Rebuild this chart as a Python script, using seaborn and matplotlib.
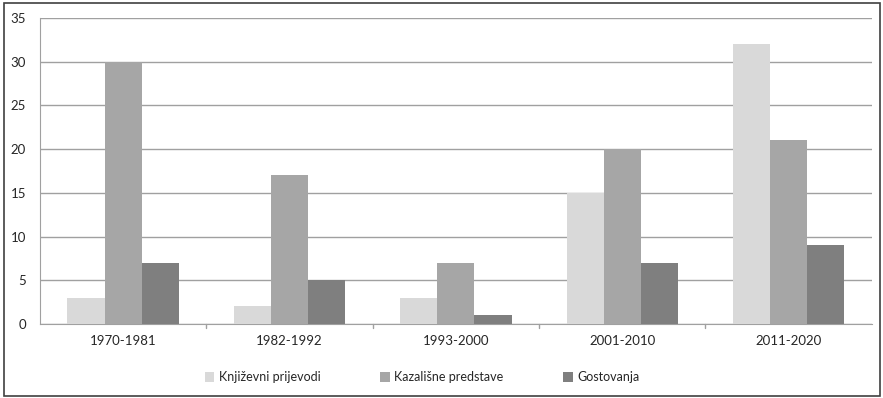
import numpy as np
import pandas as pd
import matplotlib
matplotlib.use("Agg")
import matplotlib.pyplot as plt
import seaborn as sns
from matplotlib.patches import Rectangle

periods = ["1970-1981", "1982-1992", "1993-2000", "2001-2010", "2011-2020"]
series = ["Književni prijevodi", "Kazališne predstave", "Gostovanja"]
prijevodi = [3, 2, 3, 15, 32]
predstave = [30, 17, 7, 20, 21]
gostovanja = [7, 5, 1, 7, 9]
colors = ["#d9d9d9", "#a6a6a6", "#7f7f7f"]

df = pd.DataFrame({
    "period": periods * 3,
    "serija": [series[0]] * 5 + [series[1]] * 5 + [series[2]] * 5,
    "value": prijevodi + predstave + gostovanja,
})

sns.set_style("white")
plt.rcParams["font.family"] = ["Lato", "DejaVu Sans"]

fig = plt.figure(figsize=(8.83, 3.98), dpi=100)
ax = fig.add_axes([0.0453, 0.186, 0.942, 0.769])
sns.barplot(data=df, x="period", y="value", hue="serija", palette=colors,
            width=0.67, saturation=1, ax=ax, zorder=3)
for p in ax.patches:
    p.set_edgecolor("none")

ax.set_ylim(0, 35)
ax.set_yticks(range(0, 36, 5))
ax.yaxis.grid(True, color="#a0a0a0", linewidth=1, zorder=0)
ax.set_axisbelow(True)
ax.set_xlim(-0.5, 4.5)
ax.set_xlabel("")
ax.set_ylabel("")
for s in ["top", "right"]:
    ax.spines[s].set_visible(False)
ax.spines["left"].set_color("#a0a0a0")
ax.spines["bottom"].set_color("#a0a0a0")
ax.tick_params(axis="y", length=4, color="#a0a0a0", labelsize=9.5, pad=6)
ax.tick_params(axis="x", length=0, labelsize=9.5, pad=8)
# category separator ticks
for b in np.arange(0.5, 4.5, 1.0):
    ax.plot([b, b], [0, -0.5], color="#a0a0a0", lw=1, clip_on=False)

ax.legend_.remove()
handles = [Rectangle((0, 0), 1, 1, facecolor=c, edgecolor="none") for c in colors]
fig.legend(handles, series, loc="center", bbox_to_anchor=(0.478, 0.052), ncol=3,
           frameon=False, fontsize=9, handlelength=0.75, handleheight=0.75,
           handletextpad=0.35, columnspacing=4.8)

fig.patches.append(Rectangle((0.004, 0.005), 0.993, 0.988, transform=fig.transFigure,
                             fill=False, edgecolor="#404040", linewidth=1.2))

fig.savefig("out.png", dpi=100)
